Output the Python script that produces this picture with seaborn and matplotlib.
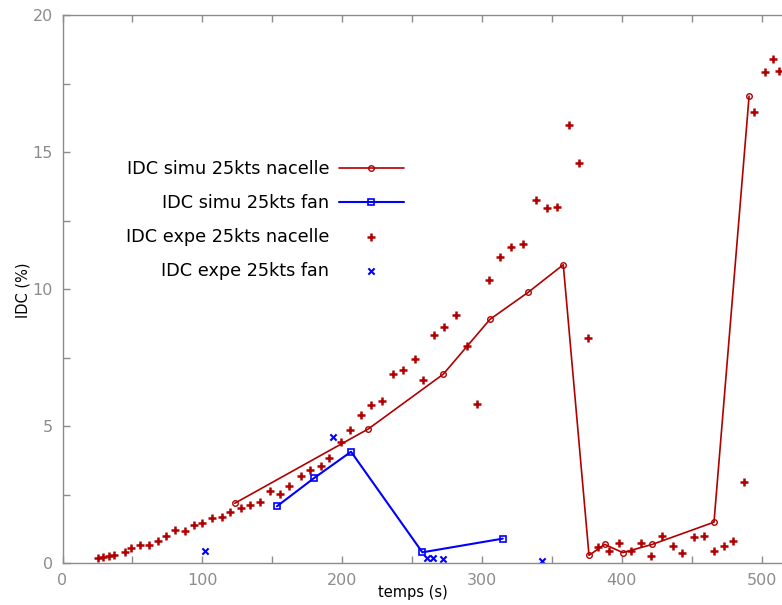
import seaborn as sns
import matplotlib.pyplot as plt
from matplotlib.ticker import MultipleLocator

# simulation, nacelle
simu_nac_t = [123.2, 218.7, 272.4, 305.8, 333.2, 358.2, 376.6, 387.8, 400.7, 421.9, 466.0, 491.1]
simu_nac_idc = [2.19, 4.90, 6.90, 8.90, 9.89, 10.89, 0.29, 0.69, 0.39, 0.69, 1.50, 17.04]

# simulation, fan
simu_fan_t = [153.4, 179.7, 206.4, 257.4, 314.9]
simu_fan_idc = [2.08, 3.10, 4.07, 0.40, 0.90]

# experiment, nacelle
expe_nac_t = [25.6, 28.8, 33.0, 37.1, 44.5, 49.0, 55.4, 61.7, 68.1, 74.2,
              80.7, 87.4, 93.8, 99.8, 107.2, 113.9, 120.0, 127.5, 134.4, 141.3,
              148.2, 155.4, 162.0, 170.4, 177.0, 184.7, 190.9, 199.2, 205.9, 213.5,
              220.9, 228.5, 236.4, 243.6, 251.9, 258.1, 266.0, 272.9, 281.3, 289.3,
              296.7, 305.3, 313.0, 321.0, 329.2, 338.5, 346.6, 353.5, 362.5, 369.2,
              376.1, 383.3, 390.9, 398.1, 406.4, 413.8, 421.0, 429.0, 436.5, 443.1,
              451.9, 458.7, 466.2, 473.2, 479.8, 487.3, 494.8, 502.2, 508.0, 512.3]
expe_nac_idc = [0.20, 0.22, 0.27, 0.31, 0.41, 0.55, 0.66, 0.66, 0.83, 1.01,
                1.21, 1.19, 1.39, 1.48, 1.65, 1.68, 1.86, 2.01, 2.12, 2.25,
                2.64, 2.53, 2.82, 3.18, 3.41, 3.54, 3.83, 4.43, 4.86, 5.41,
                5.78, 5.92, 6.90, 7.04, 7.44, 6.67, 8.34, 8.63, 9.06, 7.92,
                5.82, 10.33, 11.17, 11.54, 11.65, 13.25, 12.95, 12.99, 15.98, 14.60,
                8.21, 0.60, 0.45, 0.73, 0.46, 0.73, 0.27, 1.01, 0.64, 0.36,
                0.97, 1.01, 0.45, 0.62, 0.80, 2.98, 16.46, 17.93, 18.39, 17.95]

# experiment, fan
expe_fan_t = [101.9, 193.3, 260.5, 265.3, 272.4, 343.2]
expe_fan_idc = [0.45, 4.61, 0.18, 0.18, 0.15, 0.10]

red = "#b00000"
blue = "#0000ff"
grey = "#8c8c8c"

sns.set_style("ticks")
plt.rcParams["font.family"] = ["DejaVu Sans"]
plt.rcParams["text.color"] = "black"
plt.rcParams["axes.labelcolor"] = "black"

fig = plt.figure(figsize=(7.82, 6.05), dpi=100)
ax = fig.add_axes([62.5 / 782, 41.7 / 605, 720 / 782, 548.3 / 605])

sns.lineplot(x=simu_nac_t, y=simu_nac_idc, sort=False, color=red, lw=1.2,
             marker="o", markersize=4, markerfacecolor="none", markeredgecolor=red,
             markeredgewidth=1, label="IDC simu 25kts nacelle", ax=ax)
sns.lineplot(x=simu_fan_t, y=simu_fan_idc, sort=False, color=blue, lw=1.5,
             marker="s", markersize=4, markerfacecolor="none", markeredgecolor=blue,
             markeredgewidth=1.2, label="IDC simu 25kts fan", ax=ax)
sns.scatterplot(x=expe_nac_t, y=expe_nac_idc, color=red, marker="+", s=40,
                linewidth=1.8, label="IDC expe 25kts nacelle", ax=ax)
sns.scatterplot(x=expe_fan_t, y=expe_fan_idc, color=blue, marker="x", s=20,
                linewidth=1.5, label="IDC expe 25kts fan", ax=ax)

ax.set_xlim(0, 515)
ax.set_ylim(0, 20)
ax.xaxis.set_major_locator(MultipleLocator(100))
ax.xaxis.set_minor_locator(MultipleLocator(50))
ax.yaxis.set_major_locator(MultipleLocator(5))
ax.yaxis.set_minor_locator(MultipleLocator(2.5))
ax.tick_params(which="both", direction="in", length=5, width=1, color=grey,
               top=True, right=False, labelcolor=grey, labelsize=11.5, pad=7)

for side in ["left", "bottom", "top"]:
    ax.spines[side].set_color(grey)
    ax.spines[side].set_linewidth(1)
ax.spines["right"].set_visible(False)

ax.set_xlabel("temps (s)", fontsize=10.5, color="black")
ax.set_ylabel("IDC (%)", fontsize=10.5, color="black")
ax.xaxis.set_label_coords(0.487, -0.04)
ax.yaxis.set_label_coords(-0.045, 0.498)

leg = ax.legend(loc="center right", bbox_to_anchor=(404 / 782, 1 - 219.9 / 605),
                bbox_transform=fig.transFigure, frameon=False, markerfirst=False,
                fontsize=12.7, handlelength=3.7, handletextpad=0.55, labelspacing=0.9,
                borderpad=0, borderaxespad=0)
for txt in leg.get_texts():
    txt.set_color("black")

fig.savefig("out.png", dpi=100)
